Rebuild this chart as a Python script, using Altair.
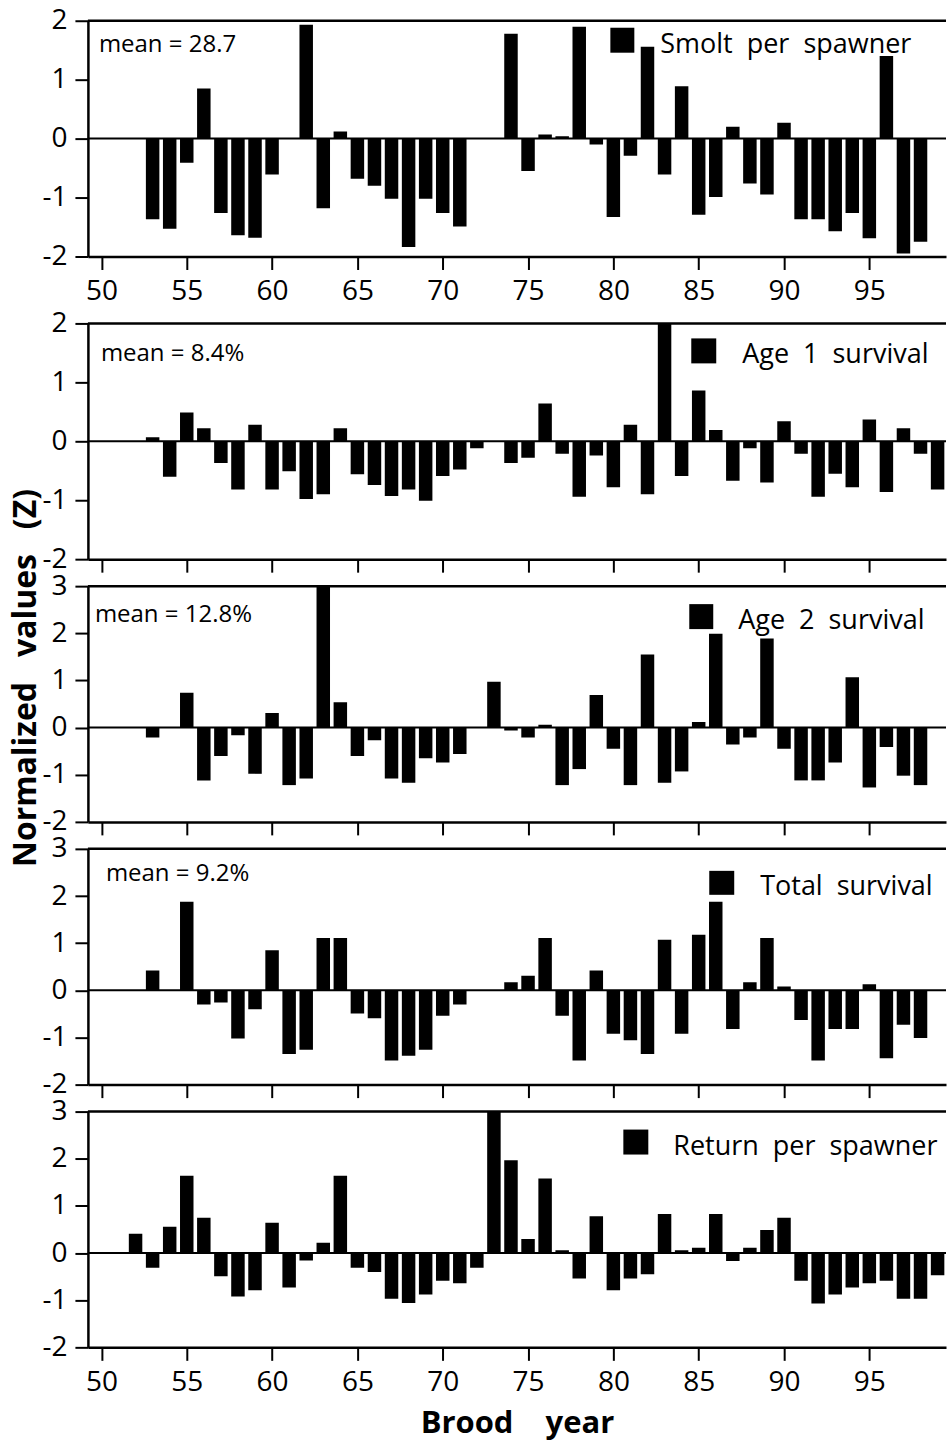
import altair as alt
import pandas as pd

# ---------------- data ----------------
years = list(range(52, 100))

smolt_per_spawner = [
    None, -1.37, -1.53, -0.41, 0.85, -1.26, -1.64, -1.68, -0.61, None,
    1.93, -1.18, 0.12, -0.68, -0.80, -1.02, -1.84, -1.02, -1.26, -1.49,
    None, None, 1.78, -0.55, 0.07, 0.04, 1.90, -0.10, -1.33, -0.29,
    1.56, -0.61, 0.89, -1.29, -0.99, 0.20, -0.76, -0.95, 0.27, -1.37,
    -1.37, -1.57, -1.26, -1.69, 1.40, -1.95, -1.75, None,
]
age1_survival = [
    None, 0.07, -0.60, 0.49, 0.22, -0.37, -0.82, 0.28, -0.82, -0.51,
    -0.98, -0.90, 0.22, -0.56, -0.74, -0.93, -0.82, -1.01, -0.59, -0.48,
    -0.12, None, -0.37, -0.28, 0.64, -0.21, -0.94, -0.24, -0.78, 0.28,
    -0.90, 2.10, -0.59, 0.86, 0.19, -0.67, -0.12, -0.70, 0.34, -0.21,
    -0.94, -0.55, -0.78, 0.37, -0.86, 0.22, -0.21, -0.82,
]
age2_survival = [
    None, -0.21, None, 0.74, -1.12, -0.60, -0.16, -0.98, 0.31, -1.22,
    -1.08, 3.10, 0.54, -0.60, -0.27, -1.08, -1.17, -0.65, -0.74, -0.56,
    None, 0.97, -0.06, -0.21, 0.06, -1.22, -0.88, 0.69, -0.45, -1.22,
    1.55, -1.17, -0.93, 0.12, 1.99, -0.36, -0.21, 1.89, -0.45, -1.12,
    -1.12, -0.74, 1.07, -1.27, -0.41, -1.02, -1.22, None,
]
total_survival = [
    None, 0.42, None, 1.88, -0.30, -0.26, -1.02, -0.40, 0.85, -1.35,
    -1.26, 1.11, 1.11, -0.49, -0.59, -1.49, -1.39, -1.26, -0.54, -0.30,
    None, None, 0.17, 0.31, 1.11, -0.54, -1.49, 0.42, -0.92, -1.06,
    -1.35, 1.07, -0.92, 1.18, 1.88, -0.82, 0.17, 1.11, 0.08, -0.63,
    -1.49, -0.82, -0.82, 0.13, -1.44, -0.73, -1.01, None,
]
return_per_spawner = [
    0.41, -0.31, 0.56, 1.64, 0.75, -0.49, -0.92, -0.79, 0.64, -0.73,
    -0.16, 0.22, 1.64, -0.31, -0.40, -0.97, -1.06, -0.88, -0.59, -0.64,
    -0.31, 3.10, 1.97, 0.30, 1.58, 0.06, -0.54, 0.78, -0.79, -0.54,
    -0.45, 0.83, 0.06, 0.11, 0.83, -0.17, 0.11, 0.49, 0.75, -0.59,
    -1.07, -0.88, -0.73, -0.64, -0.59, -0.97, -0.97, -0.47,
]

series_values = [smolt_per_spawner, age1_survival, age2_survival,
                 total_survival, return_per_spawner]
series_labels = ["Smolt per spawner", "Age 1 survival", "Age 2 survival",
                 "Total survival", "Return per spawner"]
mean_labels = ["mean = 28.7", "mean = 8.4%", "mean = 12.8%", "mean = 9.2%", ""]
y_domains = [[-2, 2], [-2, 2], [-2, 3], [-2, 3], [-2, 3]]
x_tick_values = [50, 55, 60, 65, 70, 75, 80, 85, 90, 95]
x_title = "Brood\u00a0\u00a0\u00a0\u00a0year"
y_title = "Normalized\u00a0\u00a0\u00a0values\u00a0\u00a0\u00a0(Z)"

# ---------------- layout / style ----------------
FONT = "Open Sans"
W, H = 859, 236
XDOM = [49.5, 99.2]
# per panel: legend square (x1, x2, y1, y2), legend text (x, baseline y), mean text (x, y)
LAY = [
    dict(sq=(523, 547, 7, 32), tx=(573, 32), mean=(11, 24)),
    dict(sq=(604, 629, 15, 40), tx=(655, 40), mean=(13, 31)),
    dict(sq=(602, 626, 18, 43), tx=(651, 43), mean=(7, 29)),
    dict(sq=(622, 647, 22, 46), tx=(673, 46), mean=(18, 25)),
    dict(sq=(536, 561, 18, 43), tx=(586, 43), mean=(11, 24)),
]


def spaced(s):
    return s.replace(" ", "\u00a0\u00a0")


def panel(i):
    df = pd.DataFrame({"year": years, "v": series_values[i]}).dropna()
    lo, hi = y_domains[i]
    show_labels = i in (0, 4)
    xaxis = alt.Axis(values=x_tick_values, labels=show_labels, tickSize=13,
                     labelPadding=8, format="d")
    bars = alt.Chart(df).mark_bar(color="black", size=13.5, clip=True).encode(
        x=alt.X("year:Q", scale=alt.Scale(domain=XDOM, nice=False, zero=False),
                axis=xaxis, title=(x_title if i == 4 else None)),
        y=alt.Y("v:Q", scale=alt.Scale(domain=[lo, hi], nice=False),
                axis=alt.Axis(values=list(range(lo, hi + 1)), tickSize=13,
                              labelPadding=8, labelExpr="datum.value + ''"),
                title=None),
    )
    one = pd.DataFrame({"a": [0]})
    zero = alt.Chart(one).mark_rule(color="black", strokeWidth=2).encode(y=alt.datum(0))
    top = alt.Chart(one).mark_rule(color="black", strokeWidth=2.5).encode(y=alt.value(0))
    L = LAY[i]
    sq = alt.Chart(one).mark_rect(color="black").encode(
        x=alt.value(L["sq"][0]), x2=alt.value(L["sq"][1]),
        y=alt.value(L["sq"][2]), y2=alt.value(L["sq"][3]))
    leg = alt.Chart(pd.DataFrame({"t": [spaced(series_labels[i])]})).mark_text(
        font=FONT, fontSize=27, align="left", baseline="alphabetic", color="black"
    ).encode(text="t:N", x=alt.value(L["tx"][0]), y=alt.value(L["tx"][1]))
    layers = [bars, zero, top, sq, leg]
    if mean_labels[i]:
        mt = alt.Chart(pd.DataFrame({"t": [mean_labels[i]]})).mark_text(
            font=FONT, fontSize=24, align="left", baseline="middle", color="black"
        ).encode(text="t:N", x=alt.value(L["mean"][0]), y=alt.value(L["mean"][1]))
        layers.append(mt)
    if i == 2:
        yt = alt.Chart(pd.DataFrame({"t": [y_title]})).mark_text(
            font=FONT, fontSize=32, fontWeight="bold", angle=270, align="center",
            baseline="middle", color="black"
        ).encode(text="t:N", x=alt.value(-62), y=alt.value(92))
        layers.append(yt)
    return alt.layer(*layers).properties(width=W, height=H)


spacer = alt.Chart(pd.DataFrame({"a": [0]})).mark_point(opacity=0).encode(
    x=alt.X("a:Q", axis=None), y=alt.Y("a:Q", axis=None)
).properties(width=W, height=13)

panels = [panel(i) for i in range(5)]
chart = alt.vconcat(panels[0], spacer, *panels[1:], spacing=27, bounds="flush").properties(
    padding={"left": 9, "top": 6, "right": 0, "bottom": 3}
).configure_view(stroke=None).configure_axis(
    grid=False,
    domainColor="black",
    domainWidth=2.5,
    tickColor="black",
    tickWidth=2,
    labelFont=FONT,
    labelFontSize=28,
    labelColor="black",
    titleFont=FONT,
    titleFontSize=31,
    titleFontWeight="bold",
    titleColor="black",
    titlePadding=12,
)

chart.save("out.html", embed_options={"renderer": "svg", "actions": False})
